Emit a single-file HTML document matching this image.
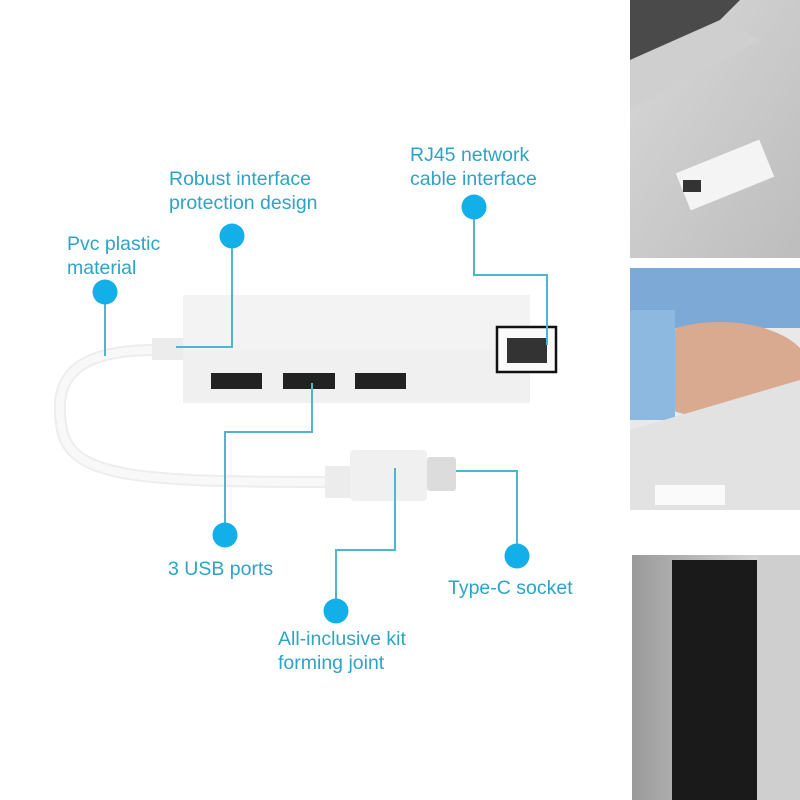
<!DOCTYPE html>
<html><head><meta charset="utf-8"><style>
html,body{margin:0;padding:0;background:#fff;}
svg{display:block}
text{font-family:"Liberation Sans",sans-serif;font-size:19.5px;fill:#2ea3c6;}
</style></head><body>
<svg width="800" height="800" viewBox="0 0 800 800" xmlns="http://www.w3.org/2000/svg">
<defs>
<linearGradient id="p1" x1="0" y1="0" x2="1" y2="1"><stop offset="0" stop-color="#d8d8d8"/><stop offset="1" stop-color="#bdbdbd"/></linearGradient>
<linearGradient id="p3" x1="0" y1="0" x2="1" y2="0"><stop offset="0" stop-color="#9a9a9a"/><stop offset="1" stop-color="#e8e8e8"/></linearGradient>
</defs>
<rect x="630" y="0" width="170" height="258" fill="url(#p1)"/>
<polygon points="630,0 740,0 720,20 630,85" fill="#4a4a4a"/>
<polygon points="630,60 720,20 760,40 630,110" fill="#cfcfcf"/>
<rect x="680" y="155" width="90" height="40" fill="#f4f4f4" transform="rotate(-22 725 175)"/>
<rect x="683" y="180" width="18" height="12" fill="#333"/>
<rect x="630" y="268" width="170" height="242" fill="#e9e9e9"/>
<rect x="630" y="268" width="170" height="60" fill="#7da9d6"/>
<ellipse cx="720" cy="370" rx="90" ry="48" fill="#d9a990"/>
<rect x="630" y="310" width="45" height="110" fill="#8db8e0"/>
<polygon points="630,430 800,380 800,510 630,510" fill="#e2e2e2"/>
<rect x="655" y="485" width="70" height="20" fill="#fafafa"/>
<rect x="632" y="555" width="168" height="245" fill="url(#p3)"/>
<rect x="672" y="560" width="85" height="240" fill="#1a1a1a"/>
<rect x="757" y="555" width="43" height="245" fill="#cfcfcf"/>
<path d="M155,350 C60,350 55,390 62,430 C72,478 140,482 330,482" fill="none" stroke="#ededed" stroke-width="12" stroke-linecap="round"/>
<path d="M155,350 C60,350 55,390 62,430 C72,478 140,482 330,482" fill="none" stroke="#f8f8f8" stroke-width="8"/>
<rect x="152" y="338" width="32" height="22" fill="#ececec"/>
<rect x="183" y="295" width="347" height="108" fill="#f3f3f3"/>
<rect x="183" y="350" width="347" height="53" fill="#f0f0f0"/>
<rect x="211" y="373" width="51" height="16" fill="#222"/>
<rect x="283" y="373" width="52" height="16" fill="#222"/>
<rect x="355" y="373" width="51" height="16" fill="#222"/>
<rect x="497" y="327" width="59" height="45" fill="#fafafa" stroke="#111" stroke-width="2.5"/>
<rect x="507" y="338" width="40" height="25" fill="#333"/>
<rect x="325" y="466" width="26" height="32" fill="#ececec"/>
<rect x="350" y="450" width="77" height="51" rx="4" fill="#f0f0f0"/>
<rect x="427" y="457" width="29" height="34" rx="3" fill="#dcdcdc"/>
<g fill="none" stroke="#4fb5cf" stroke-width="2">
<path d="M105,292 V356"/>
<path d="M232,236 V347 H176"/>
<path d="M474,207 V275 H547 V345"/>
<path d="M225,535 V432 H312 V383"/>
<path d="M517,556 V471 H456"/>
<path d="M336,611 V550 H395 V468"/>
</g>
<g fill="#12afe8">
<circle cx="105" cy="292" r="12.5"/>
<circle cx="232" cy="236" r="12.5"/>
<circle cx="474" cy="207" r="12.5"/>
<circle cx="225" cy="535" r="12.5"/>
<circle cx="517" cy="556" r="12.5"/>
<circle cx="336" cy="611" r="12.5"/>
</g>
<text x="67" y="250">Pvc plastic</text>
<text x="67" y="274">material</text>
<text x="169" y="185">Robust interface</text>
<text x="169" y="209">protection design</text>
<text x="410" y="161">RJ45 network</text>
<text x="410" y="185">cable interface</text>
<text x="168" y="575">3 USB ports</text>
<text x="448" y="594">Type-C socket</text>
<text x="278" y="645">All-inclusive kit</text>
<text x="278" y="669">forming joint</text>
</svg>
</body></html>
